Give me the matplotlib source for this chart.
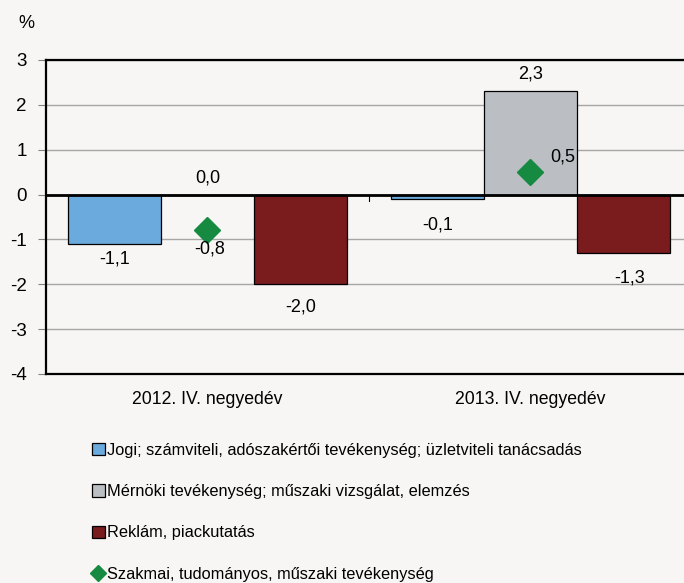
import matplotlib
matplotlib.use("Agg")
import matplotlib.pyplot as plt
from matplotlib.lines import Line2D
from matplotlib.patches import Patch
import numpy as np

plt.rcParams['font.family'] = ['Liberation Sans', 'DejaVu Sans']

categories = ["2012. IV. negyedév", "2013. IV. negyedév"]
series_names = [
    "Jogi; számviteli, adószakértői tevékenység; üzletviteli tanácsadás",
    "Mérnöki tevékenység; műszaki vizsgálat, elemzés",
    "Reklám, piackutatás",
]
series_values = [
    [-1.1, -0.1],
    [0.0, 2.3],
    [-2.0, -1.3],
]
line_name = "Szakmai, tudományos, műszaki tevékenység"
line_values = [-0.8, 0.5]
yticks = [3, 2, 1, 0, -1, -2, -3, -4]

colors = ["#6aaadd", "#bbbfc3", "#7a1b1e"]
green = "#178a42"
bg = "#f7f6f4"

fig = plt.figure(figsize=(6.84, 5.83), dpi=100, facecolor=bg)
ax = fig.add_axes([46/684, 1-374/583, 646/684, 314/583])
ax.set_facecolor(bg)

x = np.arange(len(categories))
w = 0.288
offsets = [-w, 0, w]
for vals, off, c in zip(series_values, offsets, colors):
    ax.bar(x + off, vals, width=w, color=c, edgecolor="black", linewidth=0.9, zorder=3)

ax.plot(x, line_values, linestyle="none", marker="D", markersize=13, color=green, zorder=5)

ax.set_xlim(-0.5, 1.5)
ax.set_ylim(-4, 3)
ax.set_yticks(yticks)
ax.set_yticklabels([str(t) for t in yticks], fontsize=13.5)
ax.tick_params(axis='y', length=6, color="#808080", pad=8)
ax.yaxis.grid(True, color="#a6a6a6", linewidth=1, zorder=0)
ax.set_xticks(x)
ax.set_xticklabels(categories, fontsize=12.7)
ax.tick_params(axis='x', length=0, pad=12)
ax.axhline(0, color="black", linewidth=2, zorder=4)
ax.plot([0.5, 0.5], [0, -0.15], color="black", linewidth=0.8, zorder=4)
for s in ["left", "top", "bottom", "right"]:
    ax.spines[s].set_color("black")
    ax.spines[s].set_linewidth(1.6)

fs = 13
def lab(xv, yv, t, **kw):
    ax.text(xv, yv, t, ha="center", va="center", fontsize=fs, zorder=6, **kw)

def fmt(v):
    return f"{v:.1f}".replace(".", ",")

# bar labels
lab(x[0] - w, series_values[0][0] - 0.33, fmt(series_values[0][0]))
lab(x[0], series_values[1][0] + 0.38, fmt(series_values[1][0]))
lab(x[0] + w, series_values[2][0] - 0.5, fmt(series_values[2][0]))
lab(x[1] - w, series_values[0][1] - 0.58, fmt(series_values[0][1]))
lab(x[1], series_values[1][1] + 0.38, fmt(series_values[1][1]))
lab(x[1] + w + 0.02, series_values[2][1] - 0.57, fmt(series_values[2][1]))
# line labels
lab(x[0] + 0.008, line_values[0] - 0.42, fmt(line_values[0]))
lab(x[1] + 0.1, line_values[1] + 0.33, fmt(line_values[1]))

fig.text(26/684, 1-24/583, "%", ha="center", va="center", fontsize=13)

handles = [Patch(facecolor=c, edgecolor="black", linewidth=0.9) for c in colors]
handles.append(Line2D([], [], linestyle="none", marker="D", color=green, markersize=8))
labels = series_names + [line_name]
fig.legend(handles, labels, loc="upper left", bbox_to_anchor=(92/684, 1-443/583),
           frameon=False, fontsize=11.8, handlelength=0.78, handleheight=0.78,
           handletextpad=0.13, labelspacing=1.6, borderpad=0, borderaxespad=0)

fig.savefig("out.png", dpi=100, facecolor=bg)
